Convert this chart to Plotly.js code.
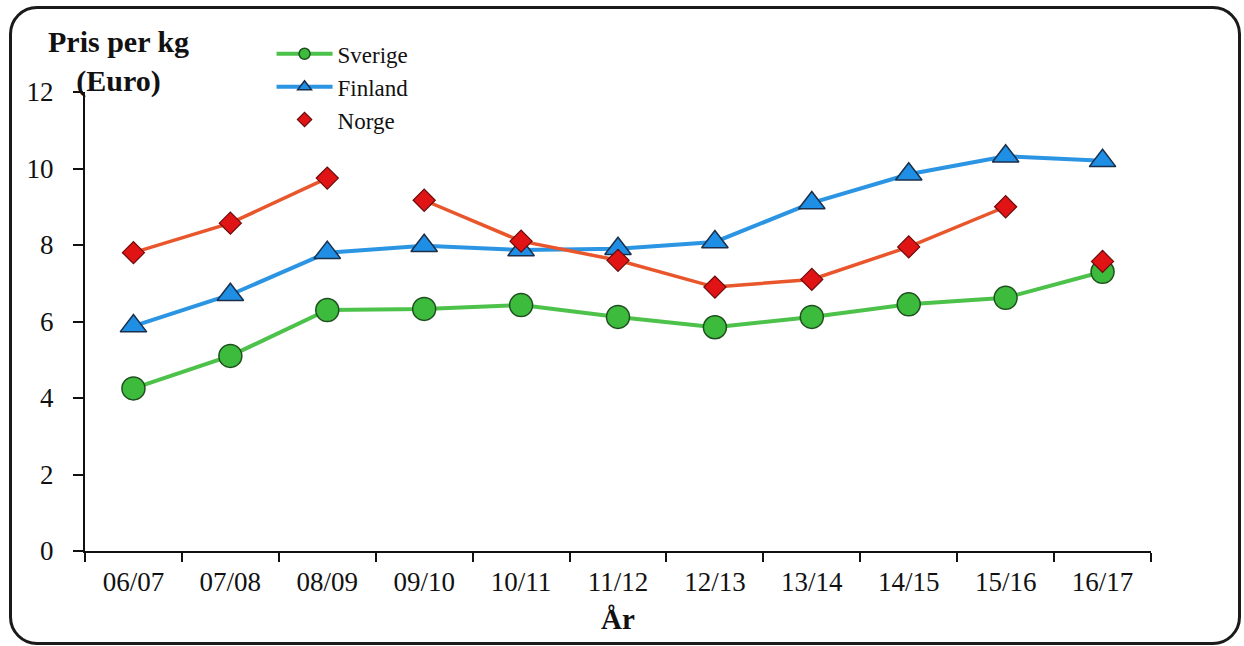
<!DOCTYPE html>
<html>
<head>
<meta charset="utf-8">
<script src="https://cdn.plot.ly/plotly-3.0.1.min.js"></script>
<style>
  html, body { margin: 0; padding: 0; background: #fff; }
  #wrap { position: relative; width: 1244px; height: 646px; }
  #chart { width: 1244px; height: 646px; }
  #frame { position: absolute; left: 9px; top: 6px; width: 1226px; height: 633px;
           border: 3px solid #1a1a1a; border-radius: 28px; pointer-events: none; }
</style>
</head>
<body>
<div id="wrap">
  <div id="chart"></div>
  <div id="frame"></div>
</div>
<script>
// ---- data ----
const years = ["06/07","07/08","08/09","09/10","10/11","11/12","12/13","13/14","14/15","15/16","16/17"];
const sverige = [4.25, 5.1, 6.3, 6.33, 6.43, 6.12, 5.85, 6.12, 6.45, 6.62, 7.3];
const finland = [5.88, 6.7, 7.8, 7.98, 7.87, 7.9, 8.08, 9.1, 9.85, 10.32, 10.2];
const norge   = [7.8, 8.57, 9.75, 9.17, 8.1, 7.6, 6.9, 7.1, 7.95, 9.0, 7.57];
// Norge line is drawn only within these index ranges (connected segments)
const norgeSegments = [[0, 2], [3, 9]];
const yTicks = [0, 2, 4, 6, 8, 10, 12];

const serif = "Liberation Serif, Times New Roman, serif";

const styles = {
  Sverige: {
    line: { color: "#4cc24a", width: 4 },
    marker: { symbol: "circle", color: "#3dbb3d", line: { color: "#1f4f1f", width: 1.5 } },
    size: 23, legendSize: 11
  },
  Finland: {
    line: { color: "#2b95e3", width: 4 },
    marker: { symbol: "triangle-up", color: "#1f8fe6", line: { color: "#1a2f4a", width: 1.5 } },
    size: 23, legendSize: 12
  },
  Norge: {
    line: { color: "#e9562c", width: 3.5 },
    marker: { symbol: "diamond", color: "#e01414", line: { color: "#6a0a0a", width: 1.2 } },
    size: 17, legendSize: 11
  }
};

function mk(name, size) {
  const m = styles[name].marker;
  return { symbol: m.symbol, color: m.color, line: m.line, size: size };
}

const traces = [
  { x: years, y: sverige, name: "Sverige", type: "scatter", mode: "lines+markers", showlegend: false,
    line: styles.Sverige.line, marker: mk("Sverige", styles.Sverige.size) },
  { x: years, y: finland, name: "Finland", type: "scatter", mode: "lines+markers", showlegend: false,
    line: styles.Finland.line, marker: mk("Finland", styles.Finland.size) }
];

norgeSegments.forEach(function (seg) {
  traces.push({
    x: years.slice(seg[0], seg[1] + 1), y: norge.slice(seg[0], seg[1] + 1),
    type: "scatter", mode: "lines", showlegend: false, hoverinfo: "skip",
    line: styles.Norge.line
  });
});

traces.push({
  x: years, y: norge, name: "Norge", type: "scatter", mode: "markers", showlegend: false,
  marker: mk("Norge", styles.Norge.size)
});

// legend entries (smaller symbols, as in the original legend)
traces.push({ x: [null], y: [null], name: "Sverige", type: "scatter", mode: "lines+markers",
  line: styles.Sverige.line, marker: mk("Sverige", styles.Sverige.legendSize) });
traces.push({ x: [null], y: [null], name: "Finland", type: "scatter", mode: "lines+markers",
  line: styles.Finland.line, marker: mk("Finland", styles.Finland.legendSize) });
traces.push({ x: [null], y: [null], name: "Norge", type: "scatter", mode: "markers",
  marker: mk("Norge", styles.Norge.legendSize) });

const layout = {
  width: 1244, height: 646,
  margin: { l: 85, r: 93, t: 92, b: 95 },
  paper_bgcolor: "#ffffff", plot_bgcolor: "#ffffff",
  font: { family: serif, color: "#111", size: 26 },
  showlegend: true,
  legend: {
    x: 0.175, y: 1.13, xanchor: "left", yanchor: "top",
    bgcolor: "rgba(0,0,0,0)", font: { family: serif, size: 23, color: "#111" },
    tracegroupgap: 0, itemwidth: 56
  },
  xaxis: {
    type: "category", range: [-0.5, 10.5], fixedrange: true,
    showline: true, linecolor: "#111", linewidth: 2,
    showgrid: false, zeroline: false,
    ticks: "outside", tickson: "boundaries", ticklen: 9, tickwidth: 2, tickcolor: "#111",
    tickfont: { family: serif, size: 27, color: "#111" }, ticklabelstandoff: 6,
    title: { text: "<b>År</b>", font: { family: serif, size: 29, color: "#111" }, standoff: 12 }
  },
  yaxis: {
    range: [0, 12], fixedrange: true,
    tickvals: yTicks, ticktext: yTicks.map(String),
    showline: true, linecolor: "#111", linewidth: 2,
    showgrid: false, zeroline: false,
    ticks: "outside", ticklen: 10, tickwidth: 2, tickcolor: "#111",
    tickfont: { family: serif, size: 27, color: "#111" }, ticklabelstandoff: 14
  },
  annotations: [
    {
      xref: "paper", yref: "paper", x: 0.031, y: 1.066, xanchor: "center", yanchor: "middle",
      text: "<b>Pris per kg<br>(Euro)</b>", showarrow: false, align: "center",
      font: { family: serif, size: 30, color: "#111" }
    }
  ]
};

Plotly.newPlot("chart", traces, layout, { staticPlot: true, displayModeBar: false });
</script>
</body>
</html>
